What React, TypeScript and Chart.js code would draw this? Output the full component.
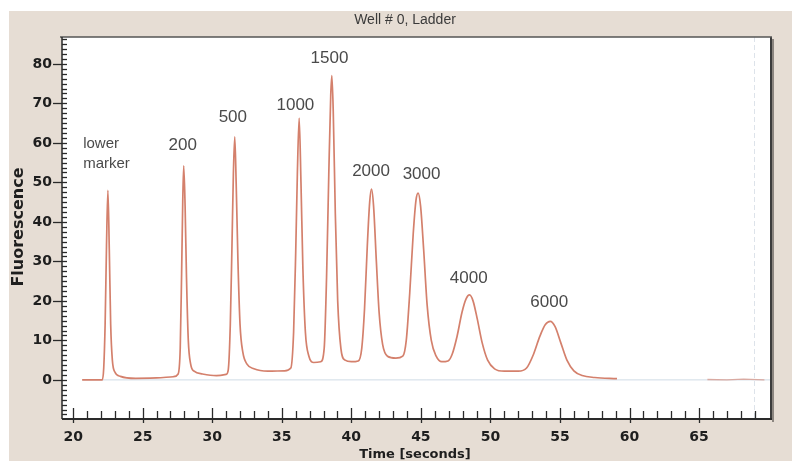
import React, { useEffect, useRef } from "react";
import { Chart, registerables } from "chart.js";

Chart.register(...registerables);

const chartTitle = "Well # 0, Ladder";
const xAxisTitle = "Time [seconds]";
const yAxisTitle = "Fluorescence";

const traceTime = [
  20.65, 22.1, 22.2, 22.3, 22.4, 22.5, 22.6, 22.7, 22.82, 23.0, 23.4, 24.5, 26.0, 27.2,
  27.55, 27.7, 27.8, 27.88, 27.95, 28.05, 28.15, 28.28, 28.45, 28.7, 29.3, 30.3, 31.0,
  31.15, 31.3, 31.42, 31.52, 31.62, 31.72, 31.85, 32.0, 32.2, 32.5, 33.0, 34.0, 35.2,
  35.65, 35.85, 36.0, 36.12, 36.25, 36.38, 36.52, 36.7, 36.95, 37.3, 37.8,
  38.05, 38.22, 38.38, 38.52, 38.6, 38.7, 38.85, 39.02, 39.25, 39.55, 40.0, 40.5,
  40.75, 40.95, 41.15, 41.32, 41.45, 41.6, 41.8, 42.0, 42.25, 42.6, 43.2,
  43.7, 43.95, 44.2, 44.45, 44.65, 44.8, 44.98, 45.2, 45.45, 45.75, 46.1, 46.5,
  46.95, 47.25, 47.6, 47.95, 48.25, 48.5, 48.75, 49.05, 49.4, 49.8, 50.3, 51.0, 52.0,
  52.6, 53.1, 53.55, 53.95, 54.3, 54.65, 55.05, 55.5, 56.0, 56.6, 57.5, 59.1,
];
const traceFluor = [
  0, 0, 3, 14, 34, 48, 33, 14, 5, 2, 0.9, 0.4, 0.5, 0.8,
  1.5, 8, 27, 45, 54.2, 44, 26, 10, 4, 2.2, 1.5, 1.1, 1.4,
  2.5, 14, 34, 52, 61.5, 50, 30, 14, 7, 4, 2.8, 2.2, 2.3,
  3, 12, 32, 52, 66.3, 50, 28, 12, 6, 4.4, 4.6,
  8, 26, 52, 72, 77, 68, 42, 20, 8, 5, 4.6, 4.8,
  8, 18, 34, 45, 48.3, 44, 30, 17, 9, 6, 5.5,
  6, 10, 22, 37, 45.5, 47.3, 44, 33, 19, 10, 6, 4.6,
  4.8, 6.5, 11, 17, 20.5, 21.5, 20, 15.5, 9.5, 5, 2.8, 2.2, 2.2,
  3, 6.5, 11, 14, 14.8, 13.5, 9.5, 5, 2.3, 1.1, 0.6, 0.3,
];

const tailTime = [65.6, 67.0, 68.2, 69.7];
const tailFluor = [0.1, 0, 0.2, 0];

const baselineTime = [20.65, 70.1];
const baselineFluor = [0, 0];

const peakLabels = ["200", "500", "1000", "1500", "2000", "3000", "4000", "6000"];
const peakLabelTime = [27.88, 31.48, 35.98, 38.43, 41.42, 45.05, 48.44, 54.23];
const peakLabelFluor = [58.2, 65.3, 68.4, 80.3, 51.6, 50.8, 24.5, 18.5];
const markerLabelLines = ["lower", "marker"];
const markerLabelTime = 20.72;
const markerLabelFluor = [58.7, 53.7];

const xTickLabels = [20, 25, 30, 35, 40, 45, 50, 55, 60, 65];
const yTickLabels = [0, 10, 20, 30, 40, 50, 60, 70, 80];
const xMinorStep = 1;
const yMinorStep = 1.25;
const markerLineTime = 68.96;

const X_MIN = 19.2;
const X_MAX = 70.1;
const Y_MIN = -9.9;
const Y_MAX = 86.8;

const pts = (xs: number[], ys: number[]) => xs.map((x, i) => ({ x, y: ys[i] }));

const decorPlugin = {
  id: "decor",
  beforeDraw(chart: any) {
    const { ctx, width, height, chartArea: a } = chart;
    ctx.save();
    ctx.fillStyle = "#ffffff";
    ctx.fillRect(0, 0, width, height);
    ctx.fillStyle = "#e6ddd4";
    ctx.fillRect(9, 11, width - 9, height - 11);
    ctx.fillStyle = "#ffffff";
    ctx.fillRect(a.left, a.top, a.right - a.left, a.bottom - a.top);
    // title
    ctx.fillStyle = "#3a3a3a";
    ctx.font = "14px 'Liberation Sans', Arial, sans-serif";
    ctx.textAlign = "center";
    ctx.textBaseline = "middle";
    ctx.fillText(chartTitle, 405, 20);
    // dashed vertical marker
    const xs = chart.scales.x;
    const vx = Math.round(xs.getPixelForValue(markerLineTime)) + 0.5;
    ctx.strokeStyle = "#dde3ea";
    ctx.lineWidth = 1;
    ctx.setLineDash([5, 3]);
    ctx.beginPath();
    ctx.moveTo(vx, a.top);
    ctx.lineTo(vx, a.bottom);
    ctx.stroke();
    ctx.setLineDash([]);
    ctx.restore();
  },
  afterDraw(chart: any) {
    const { ctx, chartArea: a } = chart;
    const xs = chart.scales.x;
    const ys = chart.scales.y;
    ctx.save();
    // frame
    ctx.strokeStyle = "#8c8680";
    ctx.lineWidth = 2;
    ctx.beginPath();
    ctx.moveTo(a.right + 3, a.top + 2);
    ctx.lineTo(a.right + 3, a.bottom + 3);
    ctx.stroke();
    ctx.strokeStyle = "#3c3c3c";
    ctx.lineWidth = 2;
    ctx.beginPath();
    ctx.moveTo(a.right + 1, a.top);
    ctx.lineTo(a.right + 1, a.bottom + 1);
    ctx.stroke();
    ctx.strokeStyle = "#555555";
    ctx.lineWidth = 1.5;
    ctx.beginPath();
    ctx.moveTo(a.left - 2, a.top);
    ctx.lineTo(a.right + 2, a.top);
    ctx.stroke();
    ctx.strokeStyle = "#2a2a2a";
    ctx.lineWidth = 1.5;
    ctx.beginPath();
    ctx.moveTo(a.left, a.top);
    ctx.lineTo(a.left, a.bottom);
    ctx.stroke();
    ctx.lineWidth = 2;
    ctx.beginPath();
    ctx.moveTo(a.left, a.bottom);
    ctx.lineTo(a.right + 2, a.bottom);
    ctx.stroke();

    // x ticks
    ctx.strokeStyle = "#2a2a2a";
    ctx.lineWidth = 1.3;
    for (let t = xTickLabels[0]; t <= X_MAX - 0.5; t += xMinorStep) {
      const px = Math.round(xs.getPixelForValue(t)) + 0.5;
      const major = xTickLabels.includes(t);
      ctx.beginPath();
      ctx.moveTo(px, major ? a.bottom - 11 : a.bottom - 8);
      ctx.lineTo(px, major ? a.bottom + 4 : a.bottom);
      ctx.stroke();
    }
    // y ticks
    for (let v = 0; v <= Y_MAX; v += yMinorStep) {
      const py = Math.round(ys.getPixelForValue(v)) + 0.5;
      const major = Math.abs(v % 10) < 1e-6;
      ctx.beginPath();
      ctx.moveTo(major ? a.left - 9 : a.left, py);
      ctx.lineTo(a.left + 5, py);
      ctx.stroke();
    }
    for (let v = -yMinorStep; v > Y_MIN; v -= yMinorStep) {
      const py = Math.round(ys.getPixelForValue(v)) + 0.5;
      ctx.beginPath();
      ctx.moveTo(a.left, py);
      ctx.lineTo(a.left + 5, py);
      ctx.stroke();
    }

    // tick labels
    ctx.fillStyle = "#1e1e1e";
    ctx.font = "bold 14px 'DejaVu Sans', Verdana, sans-serif";
    ctx.textAlign = "center";
    ctx.textBaseline = "middle";
    xTickLabels.forEach((t) => {
      ctx.fillText(String(t), xs.getPixelForValue(t), a.bottom + 18);
    });
    ctx.textAlign = "right";
    yTickLabels.forEach((v) => {
      ctx.fillText(String(v), a.left - 10, ys.getPixelForValue(v));
    });

    // axis titles
    ctx.font = "bold 13px 'DejaVu Sans', Verdana, sans-serif";
    ctx.textAlign = "center";
    ctx.textBaseline = "alphabetic";
    ctx.fillText(xAxisTitle, 415, 458);
    ctx.save();
    ctx.translate(23, 227);
    ctx.rotate(-Math.PI / 2);
    ctx.font = "bold 16px 'DejaVu Sans', Verdana, sans-serif";
    ctx.textBaseline = "alphabetic";
    ctx.fillText(yAxisTitle, 0, 0);
    ctx.restore();

    // peak labels
    ctx.fillStyle = "#4a4a4a";
    ctx.font = "17px 'Liberation Sans', Arial, sans-serif";
    ctx.textAlign = "center";
    ctx.textBaseline = "alphabetic";
    peakLabels.forEach((s, i) => {
      ctx.fillText(s, xs.getPixelForValue(peakLabelTime[i]), ys.getPixelForValue(peakLabelFluor[i]));
    });
    ctx.font = "15px 'Liberation Sans', Arial, sans-serif";
    ctx.textAlign = "left";
    markerLabelLines.forEach((s, i) => {
      ctx.fillText(s, xs.getPixelForValue(markerLabelTime), ys.getPixelForValue(markerLabelFluor[i]));
    });
    ctx.restore();
  },
};

export default function App() {
  const ref = useRef<HTMLCanvasElement | null>(null);
  useEffect(() => {
    document.body.style.margin = "0";
    const canvas = ref.current;
    if (!canvas) return;
    const chart = new Chart(canvas, {
      type: "line",
      data: {
        datasets: [
          {
            label: "Ladder",
            data: pts(traceTime, traceFluor),
            borderColor: "#d4806c",
            borderWidth: 1.7,
            pointRadius: 0,
            cubicInterpolationMode: "monotone",
            fill: false,
          },
          {
            label: "tail",
            data: pts(tailTime, tailFluor),
            borderColor: "#d9aaa2",
            borderWidth: 1.3,
            pointRadius: 0,
            fill: false,
          },
          {
            label: "baseline",
            data: pts(baselineTime, baselineFluor),
            borderColor: "#cfdbe6",
            borderWidth: 1,
            pointRadius: 0,
            fill: false,
          },
        ],
      },
      options: {
        responsive: false,
        animation: false,
        devicePixelRatio: 1,
        layout: { padding: { left: 62, right: 22, top: 37, bottom: 42 } },
        plugins: { legend: { display: false }, tooltip: { enabled: false }, title: { display: false } },
        scales: {
          x: { type: "linear", min: X_MIN, max: X_MAX, display: false },
          y: { type: "linear", min: Y_MIN, max: Y_MAX, display: false },
        },
      },
      plugins: [decorPlugin],
    } as any);
    return () => chart.destroy();
  }, []);
  return (
    <div style={{ width: 792, height: 461 }}>
      <canvas ref={ref} width={792} height={461} style={{ display: "block" }} />
    </div>
  );
}
